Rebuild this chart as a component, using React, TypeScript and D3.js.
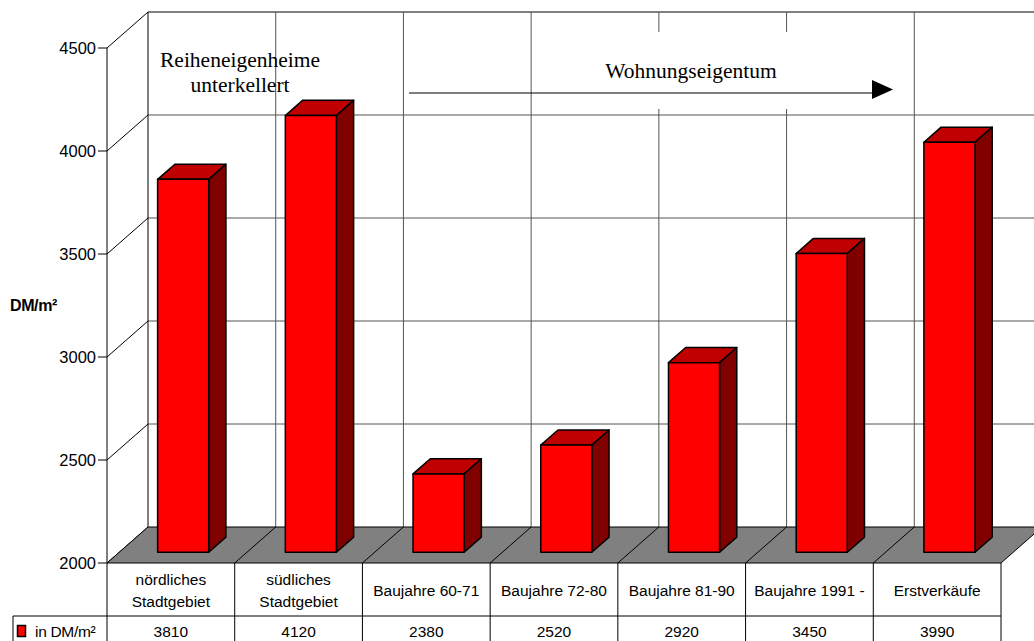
import * as d3 from "d3";

const CATEGORIES: string[][] = [
  ["nördliches", "Stadtgebiet"],
  ["südliches", "Stadtgebiet"],
  ["Baujahre 60-71"],
  ["Baujahre 72-80"],
  ["Baujahre 81-90"],
  ["Baujahre 1991 -"],
  ["Erstverkäufe"],
];
const VALUES = [3810, 4120, 2380, 2520, 2920, 3450, 3990];
const Y_TICKS = [2000, 2500, 3000, 3500, 4000, 4500];
const SERIES_NAME = "in DM/m²";
const Y_TITLE = "DM/m²";
const NOTE_LEFT = ["Reiheneigenheime", "unterkellert"];
const NOTE_RIGHT = "Wohnungseigentum";

const W = 1034;
const H = 641;
// front plane of the 3D box
const FRONT = { left: 107, right: 1001, top: 48, bottom: 563 };
const DEPTH = { dx: 41, dy: -36 };
// bars sit between these depth fractions
const BAR_Z = [0.3, 0.72];
const BAR_W = 0.4;
const TABLE = { rowMid: 616, legendLeft: 13 };

const SANS = "'Liberation Sans', Arial, sans-serif";
const SERIF = "'Liberation Serif', 'Times New Roman', serif";

const proj = (x: number, y: number, z: number): [number, number] => [x + DEPTH.dx * z, y + DEPTH.dy * z];
const pts = (p: [number, number][]) => p.map((q) => q.join(",")).join(" ");

export default function App() {
  const idx = CATEGORIES.map((_, i) => i);
  const x = d3.scaleBand<number>().domain(idx).range([FRONT.left, FRONT.right]).padding(0);
  const y = d3.scaleLinear().domain([2000, 4500]).range([FRONT.bottom, FRONT.top]);
  const bw = x.bandwidth();
  const base = y(2000);
  const backRight = FRONT.right + DEPTH.dx;
  const bounds = idx.map((i) => x(i)!).concat([FRONT.right]);

  return (
    <svg width={W} height={H} style={{ position: "absolute", left: 0, top: 0, background: "#fff" }}>
      {/* back wall grid */}
      {Y_TICKS.slice(1).map((t) => {
        const [x0, yy] = proj(FRONT.left, y(t), 1);
        return <line key={"h" + t} x1={x0} x2={backRight} y1={yy} y2={yy} stroke={t === 4500 ? "#000" : "#555"} />;
      })}
      {bounds.slice(1).map((bx, i) => {
        const [xx, y0] = proj(bx, base, 1);
        const [, y1] = proj(bx, y(4500), 1);
        return <line key={"v" + i} x1={xx} x2={xx} y1={y0} y2={y1} stroke="#555" />;
      })}
      {/* left wall */}
      {Y_TICKS.map((t) => {
        const [x1, y1] = proj(FRONT.left, y(t), 1);
        return <line key={"d" + t} x1={FRONT.left} y1={y(t)} x2={x1} y2={y1} stroke="#000" />;
      })}
      <line x1={FRONT.left + DEPTH.dx} x2={FRONT.left + DEPTH.dx} y1={y(4500) + DEPTH.dy} y2={base + DEPTH.dy} stroke="#000" />

      {/* annotation box covering the grid */}
      <rect x={592} y={32} width={200} height={77} fill="#fff" />

      {/* floor */}
      <polygon
        points={pts([
          [FRONT.left, base],
          [FRONT.right, base],
          proj(FRONT.right, base, 1),
          proj(FRONT.left, base, 1),
        ])}
        fill="#808080"
        stroke="#000"
      />
      {bounds.slice(1, -1).map((bx, i) => {
        const [x1, y1] = proj(bx, base, 1);
        return <line key={"f" + i} x1={bx} y1={base} x2={x1} y2={y1} stroke="#000" />;
      })}

      {/* bars */}
      {VALUES.map((v, i) => {
        const xa = x(i)! + bw * (0.5 - BAR_W / 2);
        const xb = xa + bw * BAR_W;
        const yv = y(v);
        const [z0, z1] = BAR_Z;
        return (
          <g key={"b" + i} stroke="#000" strokeWidth={1.5} strokeLinejoin="round">
            <polygon points={pts([proj(xa, yv, z0), proj(xb, yv, z0), proj(xb, yv, z1), proj(xa, yv, z1)])} fill="#c00000" />
            <polygon points={pts([proj(xb, yv, z0), proj(xb, yv, z1), proj(xb, base, z1), proj(xb, base, z0)])} fill="#800000" />
            <polygon points={pts([proj(xa, yv, z0), proj(xb, yv, z0), proj(xb, base, z0), proj(xa, base, z0)])} fill="#ff0000" />
          </g>
        );
      })}

      {/* front axis */}
      <line x1={FRONT.left} x2={FRONT.left} y1={y(4500)} y2={H} stroke="#000" />
      {Y_TICKS.map((t) => (
        <g key={"t" + t}>
          <line x1={FRONT.left - 9} x2={FRONT.left} y1={y(t)} y2={y(t)} stroke="#000" />
          <text x={FRONT.left - 11} y={y(t) + 6} textAnchor="end" fontFamily={SANS} fontSize={16.5} fill="#000">
            {t}
          </text>
        </g>
      ))}
      <text x={10} y={311} fontFamily={SANS} fontSize={16} fontWeight="bold" letterSpacing={-0.4}>
        {Y_TITLE}
      </text>

      {/* annotations */}
      {NOTE_LEFT.map((s, k) => (
        <text key={s} x={240} y={67 + k * 25} textAnchor="middle" fontFamily={SERIF} fontSize={21.5}>
          {s}
        </text>
      ))}
      <text x={691} y={78} textAnchor="middle" fontFamily={SERIF} fontSize={21.5}>
        {NOTE_RIGHT}
      </text>
      <line x1={409} x2={872} y1={93} y2={93} stroke="#000" />
      <polygon points={pts([[872, 80], [893, 89.5], [872, 99]])} fill="#000" />

      {/* data table */}
      {bounds.slice(1).map((bx, i) => (
        <line key={"c" + i} x1={bx} x2={bx} y1={base} y2={H} stroke="#000" />
      ))}
      <line x1={TABLE.legendLeft} x2={FRONT.right} y1={TABLE.rowMid} y2={TABLE.rowMid} stroke="#000" />
      <line x1={TABLE.legendLeft} x2={TABLE.legendLeft} y1={TABLE.rowMid} y2={H} stroke="#000" />
      {CATEGORIES.map((lines, i) => {
        const cx = x(i)! + bw / 2;
        const y0 = lines.length === 1 ? 596 : 585;
        return (
          <text key={"l" + i} textAnchor="middle" fontFamily={SANS} fontSize={15.5}>
            {lines.map((s, k) => (
              <tspan key={k} x={cx} y={y0 + k * 22}>
                {s}
              </tspan>
            ))}
          </text>
        );
      })}
      {VALUES.map((v, i) => (
        <text key={"n" + i} x={x(i)! + bw / 2} y={637} textAnchor="middle" fontFamily={SANS} fontSize={15.5}>
          {v}
        </text>
      ))}
      <rect x={17.5} y={625.5} width={8} height={11} fill="#ff0000" stroke="#000" strokeWidth={1.5} />
      <text x={35} y={637} fontFamily={SANS} fontSize={15.5} letterSpacing={-0.3}>
        {SERIES_NAME}
      </text>
    </svg>
  );
}
